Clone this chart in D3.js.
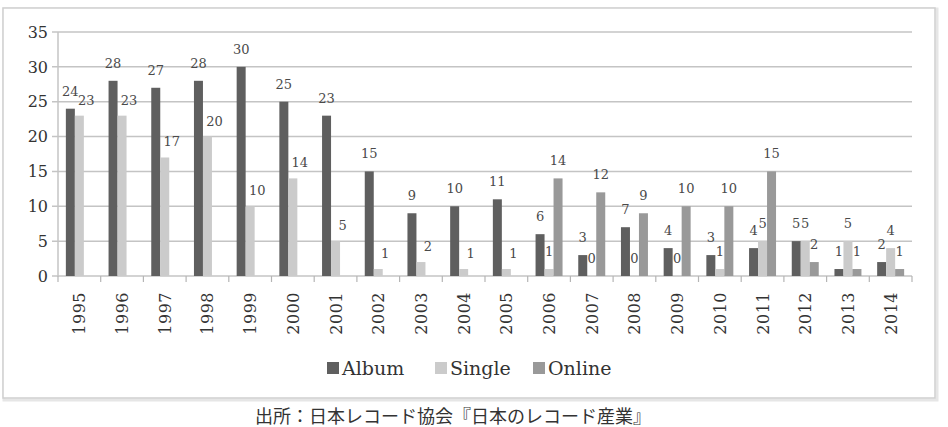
<!DOCTYPE html>
<html>
<head>
<meta charset="utf-8">
<script src="https://cdn.jsdelivr.net/npm/d3@7"></script>
<style>
  body { margin: 0; background: #fff; }
  svg { display: block; }
</style>
</head>
<body>
<svg id="chart" width="948" height="427"></svg>
<script>
// values
const years = ["1995","1996","1997","1998","1999","2000","2001","2002","2003","2004",
               "2005","2006","2007","2008","2009","2010","2011","2012","2013","2014"];
const album  = [24,28,27,28,30,25,23,15,9,10,11,6,3,7,4,3,4,5,1,2];
const single = [23,23,17,20,10,14,5,1,2,1,1,1,0,0,0,1,5,5,5,4];
const online = [null,null,null,null,null,null,null,null,null,null,null,14,12,9,10,10,15,2,1,1];
const seriesNames = ["Album", "Single", "Online"];
const yTicks = [0,5,10,15,20,25,30,35];
const caption = "出所：日本レコード協会『日本のレコード産業』";

const colors = {Album: "#5f5f5f", Single: "#cbcbcb", Online: "#999999"};
const serif = "'DejaVu Serif', serif";

const svg = d3.select("#chart");

// outer frame
svg.append("rect")
    .attr("x", 4).attr("y", 9)
    .attr("width", 933).attr("height", 391)
    .attr("fill", "none")
    .attr("stroke", "#e6e6e6")
    .attr("stroke-width", 3);
svg.append("rect")
    .attr("x", 3).attr("y", 8)
    .attr("width", 932).attr("height", 390)
    .attr("fill", "#fff")
    .attr("stroke", "#cfcfcf")
    .attr("stroke-width", 1.5);

const plotLeft = 58, plotRight = 912, plotTop = 32, plotBottom = 276;

const x = d3.scaleBand()
    .domain(years)
    .range([plotLeft, plotRight])
    .paddingInner(0.368)
    .paddingOuter(0.184);

const xs = d3.scaleBand()
    .domain(seriesNames)
    .range([0, x.bandwidth()]);

const y = d3.scaleLinear()
    .domain([0, 35])
    .range([plotBottom, plotTop]);

// gridlines + y tick marks
svg.append("g")
  .selectAll("line")
  .data(yTicks)
  .join("line")
    .attr("x1", plotLeft - 6)
    .attr("x2", plotRight)
    .attr("y1", d => y(d))
    .attr("y2", d => y(d))
    .attr("stroke", "#c4c4c4")
    .attr("stroke-width", 1.5);

// y axis line
svg.append("line")
    .attr("x1", plotLeft).attr("x2", plotLeft)
    .attr("y1", y(35)).attr("y2", y(0))
    .attr("stroke", "#c4c4c4")
    .attr("stroke-width", 1.5);

// y tick labels
svg.append("g")
  .selectAll("text")
  .data(yTicks)
  .join("text")
    .attr("x", plotLeft - 10)
    .attr("y", d => y(d))
    .attr("dy", "0.36em")
    .attr("text-anchor", "end")
    .style("font-family", serif)
    .style("font-size", "16px")
    .style("fill", "#333")
    .text(d => d);

// x tick marks at category boundaries
const step = x.step();
const bounds = d3.range(years.length + 1).map(i => plotLeft + i * step);
svg.append("g")
  .selectAll("line")
  .data(bounds)
  .join("line")
    .attr("x1", d => d).attr("x2", d => d)
    .attr("y1", plotBottom).attr("y2", plotBottom + 6)
    .attr("stroke", "#b5b5b5")
    .attr("stroke-width", 1.2);

// bars
const rows = years.map((yr, i) => ({
    year: yr,
    vals: [
        {s: "Album", v: album[i]},
        {s: "Single", v: single[i], lonely: online[i] == null},
        {s: "Online", v: online[i]}
    ].filter(d => d.v != null)
}));

const groups = svg.append("g")
  .selectAll("g")
  .data(rows)
  .join("g")
    .attr("transform", d => `translate(${x(d.year)},0)`);

groups.selectAll("rect")
  .data(d => d.vals)
  .join("rect")
    .attr("x", d => xs(d.s))
    .attr("width", xs.bandwidth())
    .attr("y", d => y(d.v))
    .attr("height", d => y(0) - y(d.v))
    .attr("fill", d => colors[d.s]);

// data labels
groups.selectAll("text")
  .data(d => d.vals)
  .join("text")
    .attr("x", d => xs(d.s) + xs.bandwidth() / 2 + (d.lonely ? 7 : 0))
    .attr("y", d => y(d.v) - (d.lonely ? 11 : 13))
    .attr("text-anchor", "middle")
    .style("font-family", serif)
    .style("font-size", "13px")
    .style("fill", "#4a4a4a")
    .text(d => d.v);

// x labels, rotated
svg.append("g")
  .selectAll("text")
  .data(years)
  .join("text")
    .attr("transform", d => `translate(${x(d) + x.bandwidth() / 2 + 6},${plotBottom + 16}) rotate(-90)`)
    .attr("text-anchor", "end")
    .style("font-family", serif)
    .style("font-size", "16px")
    .style("letter-spacing", "0.5px")
    .style("fill", "#333")
    .text(d => d);

// legend
const legendX = [327, 435, 533];
const legend = svg.append("g")
  .selectAll("g")
  .data(seriesNames)
  .join("g")
    .attr("transform", (d, i) => `translate(${legendX[i]},368)`);
legend.append("rect")
    .attr("x", 0).attr("y", -6)
    .attr("width", 12).attr("height", 12)
    .attr("fill", d => colors[d]);
legend.append("text")
    .attr("x", 15)
    .attr("y", 0)
    .attr("dy", "0.36em")
    .style("font-family", serif)
    .style("font-size", "19px")
    .style("fill", "#333")
    .text(d => d);

// source caption below the frame
svg.append("text")
    .attr("x", 453)
    .attr("y", 423)
    .attr("text-anchor", "middle")
    .style("font-family", "'Noto Sans CJK JP', sans-serif")
    .style("font-size", "18px")
    .style("fill", "#333")
    .text(caption);
</script>
</body>
</html>
